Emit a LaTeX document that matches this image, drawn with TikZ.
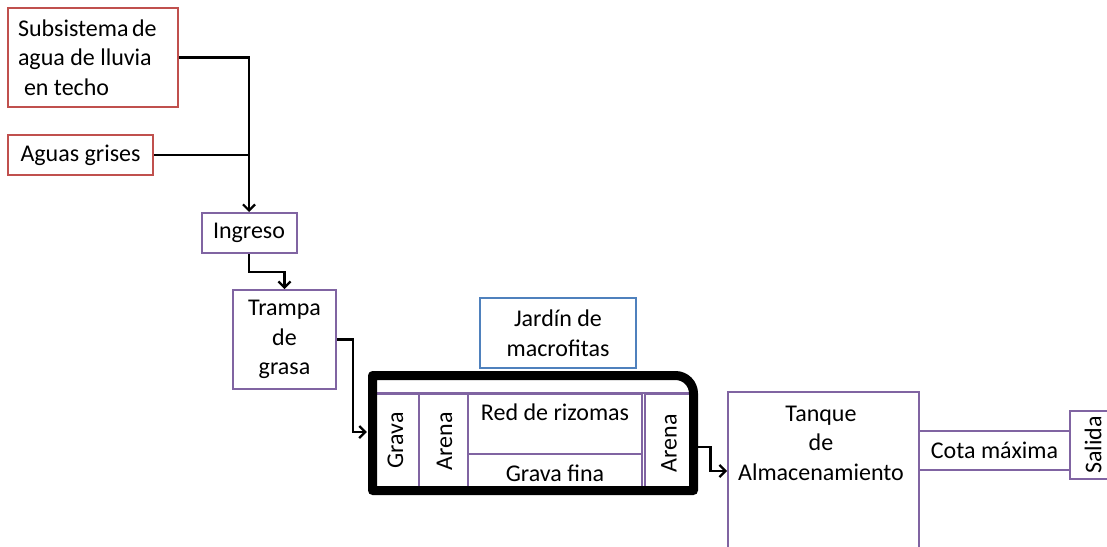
\documentclass[tikz,border=0pt]{standalone}
\usepackage{fontspec}
\setmainfont{Carlito}
\usetikzlibrary{arrows.meta}
\definecolor{cred}{RGB}{192,80,77}
\definecolor{cpurp}{RGB}{128,100,162}
\definecolor{cblue}{RGB}{79,129,189}
\begin{document}
\begin{tikzpicture}[x=1pt,y=-1pt,
  every node/.style={font=\fontsize{24}{29.5}\selectfont, inner sep=0pt},
  bx/.style={draw=#1, line width=2pt, fill=white, rectangle, align=center},
  conn/.style={line width=2.6pt, black},
  arr/.style={conn, -{Straight Barb[length=6pt,width=12pt,line width=2.2pt]}},
]
\useasboundingbox (0,0) rectangle (1107,546);
\clip (0,0) rectangle (1107,546);

% source boxes
\node[bx=cred, minimum width=170pt, minimum height=99pt, text width=150pt, align=flush left] (sub) at (93,57.5)
  {Subsistema\hspace{0.15em}de\\agua de lluvia\\\hspace*{0.25em}en techo};
\node[bx=cred, minimum width=145pt, minimum height=40pt] (ag) at (80.5,155) {Aguas grises};

\node[bx=cpurp, minimum width=95pt, minimum height=40pt] (ingreso) at (249,233) {Ingreso};
\node[bx=cpurp, minimum width=103pt, minimum height=99pt] (trampa) at (284.5,339.5) {Trampa\\de\\grasa};
\node[bx=cblue, minimum width=156pt, minimum height=70pt] (jardin) at (558,333) {Jard\'in de\\macrofitas};

% bed area
\node[minimum width=331pt, minimum height=124pt] (bed) at (532.5,433) {};
\node[bx=cpurp, minimum width=47pt, minimum height=93pt] (grava) at (395.5,440.5) {};
\node[bx=cpurp, minimum width=49pt, minimum height=93pt] (arena1) at (443.5,440.5) {};
\node[bx=cpurp, minimum width=174pt, minimum height=60pt] (red) at (555,424) {};
\node[bx=cpurp, minimum width=174pt, minimum height=33pt] (fina) at (555,470.5) {};
\node[bx=cpurp, minimum width=48pt, minimum height=97pt] (arena2) at (669,442.5) {};
\draw[cpurp, line width=2pt] (grava.north west) -- (arena2.north east);
\node[rotate=90] (gravat) at (grava.center) {Grava};
\node[rotate=90] (arena1t) at ([xshift=1pt,yshift=-1pt]arena1.center) {Arena};
\node (redt) at ([yshift=-19pt]red.north) {Red de rizomas};
\node (finat) at ([yshift=-3pt]fina.center) {Grava fina};
\node[rotate=90] (arena2t) at ([yshift=-1pt]arena2.center) {Arena};
\draw[line width=9pt, line join=round] (372.5,490.5) -- (372.5,375.5) -- (675.5,375.5)
  arc[start angle=-90, end angle=0, radius=18] -- (693.5,490.5) -- cycle;

% storage and output
\node[bx=cpurp, minimum width=191pt, minimum height=158pt] (tanque) at (823.5,471) {};
\node[align=center] (tanquet) at (821,443) {Tanque\\de\\Almacenamiento};
\node[bx=cpurp, minimum width=151pt, minimum height=39pt] (cota) at (994.5,450.5) {Cota m\'axima};
\node[bx=cpurp, minimum width=48pt, minimum height=68pt] (salida) at (1094,445) {};
\node[rotate=90] (salidat) at (1093,445) {Salida};

% connectors
\draw[arr] (sub.east) -| (ingreso.north);
\draw[conn] (ag.east) -- (ag.east -| ingreso.north);
\draw[arr] (ingreso.south) -- ++(0,18) -| (trampa.north);
\draw[arr] (trampa.east) -- ++(16,0) |- ([yshift=1pt]bed.west);
\draw[arr] ([yshift=-14pt]bed.east) -- ++(12,0) |- (tanque.west);
\end{tikzpicture}
\end{document}
